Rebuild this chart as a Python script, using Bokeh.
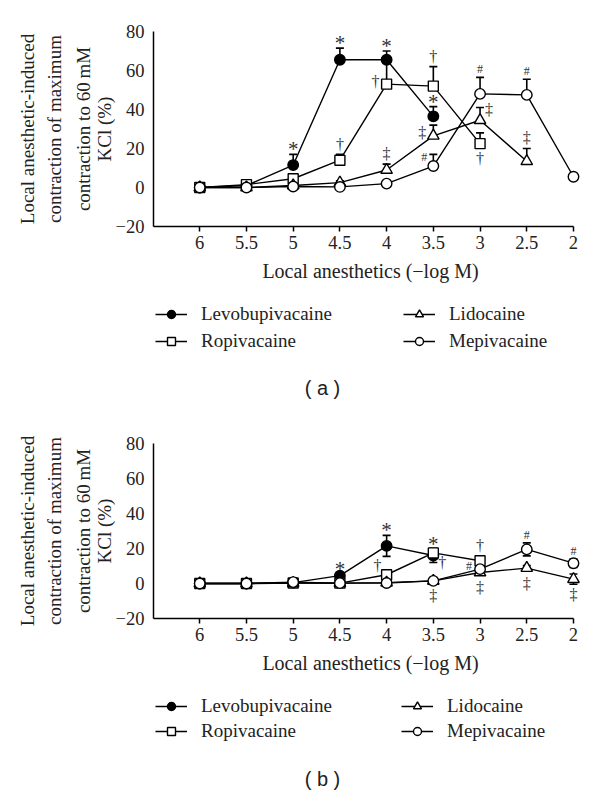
import math
from bokeh.plotting import figure
from bokeh.models import (Range1d, FixedTicker, Whisker, TeeHead, ColumnDataSource,
                          Legend, LegendItem, Label, LinearAxis)
from bokeh.layouts import column, row
from bokeh.embed import file_html
from bokeh.resources import INLINE
from bokeh.core.properties import value

# ---------------- data ----------------
x_ticks = [6, 5.5, 5, 4.5, 4, 3.5, 3, 2.5, 2]
x_tick_labels = ["6", "5.5", "5", "4.5", "4", "3.5", "3", "2.5", "2"]
y_ticks = [-20, 0, 20, 40, 60, 80]
y_tick_labels = ["\u221220", "0", "20", "40", "60", "80"]

series_names = ["Levobupivacaine", "Ropivacaine", "Lidocaine", "Mepivacaine"]
y_title_lines = ["Local anesthetic-induced", "contraction of maximum",
                 "contraction to 60\u2009mM", "KCl (%)"]
x_title = "Local anesthetics (\u2212log M)"
captions = ["( a )", "( b )"]

# Panel (a)
a_levo_x = [6, 5.5, 5, 4.5, 4, 3.5]
a_levo_y = [0, 1, 11.5, 65.5, 65.5, 36.5]
a_levo_err = [0, 0, 5.5, 6, 4.5, 5]
a_levo_sig = ["", "", "*", "*", "*", "*"]
a_levo_pos = ["", "", "above", "above", "above", "above"]

a_ropi_x = [6, 5.5, 5, 4.5, 4, 3.5, 3]
a_ropi_y = [0, 1.5, 4.5, 14, 53, 52, 22.5]
a_ropi_err = [0, 0, 1, 3, 12, 10, 5.5]
a_ropi_sig = ["", "", "", "\u2020", "\u2020", "\u2020", "\u2020"]
a_ropi_pos = ["", "", "", "above", "left", "above", "below"]

a_lido_x = [6, 5.5, 5, 4.5, 4, 3.5, 3, 2.5]
a_lido_y = [0, 0, 1, 2.5, 9, 26.5, 34.5, 13.5]
a_lido_err = [0, 0, 0, 1, 3, 5.5, 6.5, 6.5]
a_lido_sig = ["", "", "", "", "\u2021", "\u2021", "\u2021", "\u2021"]
a_lido_pos = ["", "", "", "", "above", "left", "upright", "above"]

a_mepi_x = [6, 5.5, 5, 4.5, 4, 3.5, 3, 2.5, 2]
a_mepi_y = [0, 0, 0.5, 0.3, 2, 11, 48, 47.5, 5.5]
a_mepi_err = [0, 0, 0, 0, 0, 6, 8.5, 8, 0]
a_mepi_sig = ["", "", "", "", "", "#", "#", "#", ""]
a_mepi_pos = ["", "", "", "", "", "upleft", "above", "above", ""]

# Panel (b)
b_levo_x = [6, 5.5, 5, 4.5, 4, 3.5]
b_levo_y = [0, 0, 0.5, 4.5, 21.5, 16]
b_levo_err = [0, 0, 0, 1, 6, 4]
b_levo_sig = ["", "", "", "*", "*", "*"]
b_levo_pos = ["", "", "", "above", "above", "above"]

b_ropi_x = [6, 5.5, 5, 4.5, 4, 3.5, 3]
b_ropi_y = [0, 0, 0.3, 0.2, 5, 17.5, 13]
b_ropi_err = [0, 0, 0, 0, 2.3, 2.5, 2.8]
b_ropi_sig = ["", "", "", "", "\u2020", "\u2020", "\u2020"]
b_ropi_pos = ["", "", "", "", "upleft", "downright", "above"]

b_lido_x = [6, 5.5, 5, 4.5, 4, 3.5, 3, 2.5, 2]
b_lido_y = [0, 0, 0.2, 0.2, 0.5, 1.5, 6.3, 8.8, 2.5]
b_lido_err = [0, 0, 0, 0, 0, 0.5, 1, 1.5, 2.9]
b_lido_sig = ["", "", "", "", "", "\u2021", "\u2021", "\u2021", "\u2021"]
b_lido_pos = ["", "", "", "", "", "below", "below", "below", "below"]

b_mepi_x = [6, 5.5, 5, 4.5, 4, 3.5, 3, 2.5, 2]
b_mepi_y = [0, 0, 0.8, 0.2, 0.3, 1.5, 8.2, 19.5, 11.6]
b_mepi_err = [0, 0, 0, 0, 0, 0.5, 1.5, 3.7, 2.4]
b_mepi_sig = ["", "", "", "", "", "", "#", "#", "#"]
b_mepi_pos = ["", "", "", "", "", "", "left", "above", "above"]

# ---------------- style ----------------
SERIF = "Liberation Serif"
SANS = "Liberation Sans"
INK = "#222222"
TOTAL_W = 596
markers = ["circle", "square", "triangle", "circle"]
fills = ["black", "white", "white", "white"]
marker_sizes = [10.5, 10, 11.5, 10.5]
sym_size = {"*": "21px", "\u2020": "16px", "\u2021": "16px", "#": "12px"}
above_off = {"*": -5, "\u2020": -10, "\u2021": -11, "#": -8}
pos_off = {"left": (-11, -3), "upleft": (-9, -9), "upright": (9, -11),
           "downright": (9, 10), "below": (0, 15)}
# standoffs of the four stacked title lines (innermost first)
title_standoffs = [-2, -3, 5, 3]


def draw_series(p, series, scale=1.0):
    line_rs, mark_rs = [], []
    for xs, ys, errs, sigs, poss in series:
        line_rs.append(p.line(xs, ys, line_color="black", line_width=1.4))
    for i, (xs, ys, errs, sigs, poss) in enumerate(series):
        mark_rs.append(p.scatter(xs, ys, marker=markers[i], size=marker_sizes[i] * scale,
                                 fill_color=fills[i], line_color="black", line_width=1.4))
    return line_rs, mark_rs


def make_main(series, both_heads, height, top, bottom):
    p = figure(width=TOTAL_W, height=height, output_backend="svg",
               toolbar_location=None,
               x_range=Range1d(6.495, 1.85), y_range=Range1d(-20, 80),
               min_border_left=153, min_border_right=9,
               min_border_top=top, min_border_bottom=bottom)
    p.outline_line_color = None
    p.grid.visible = False

    xa = p.xaxis[0]
    xa.ticker = FixedTicker(ticks=x_ticks)
    xa.major_label_overrides = {t: l for t, l in zip(x_ticks, x_tick_labels)}
    xa.bounds = (2, 6.495)
    xa.major_tick_out = 5
    xa.major_tick_in = 0
    xa.major_label_standoff = 4
    xa.axis_label = x_title
    xa.axis_label_standoff = 8
    xa.axis_label_text_font_size = "20px"

    ya = p.yaxis[0]
    ya.ticker = FixedTicker(ticks=y_ticks)
    ya.major_label_overrides = {t: l for t, l in zip(y_ticks, y_tick_labels)}
    ya.major_tick_out = 0
    ya.major_tick_in = 0
    ya.major_label_standoff = 9

    for ax in (xa, ya):
        ax.minor_tick_line_color = None
        ax.axis_line_color = "black"
        ax.axis_line_width = 1.5
        ax.major_tick_line_color = "black"
        ax.major_tick_line_width = 1.5
        ax.major_label_text_font = SERIF
        ax.major_label_text_font_size = "18.5px"
        ax.major_label_text_color = INK
        ax.axis_label_text_font = SERIF
        ax.axis_label_text_font_style = "normal"
        ax.axis_label_text_color = INK

    # y title: one tick-less axis per text line, stacked outward from the frame
    for txt, so in zip(reversed(y_title_lines), title_standoffs):
        t_ax = LinearAxis(ticker=FixedTicker(ticks=[]), axis_label=txt,
                          axis_label_standoff=so, axis_label_text_font=SERIF,
                          axis_label_text_font_size="19px", axis_label_text_font_style="normal",
                          axis_label_text_color=INK, axis_line_color=None,
                          major_tick_line_color=None, minor_tick_line_color=None,
                          major_tick_out=0, major_tick_in=0, minor_tick_out=0,
                          minor_tick_in=0, major_label_standoff=0)
        p.add_layout(t_ax, "left")

    for xs, ys, errs, sigs, poss in series:
        ex = [x for x, e in zip(xs, errs) if e > 0]
        ey = [y for y, e in zip(ys, errs) if e > 0]
        ee = [e for e in errs if e > 0]
        src = ColumnDataSource(dict(base=ex, upper=[y + e for y, e in zip(ey, ee)],
                                    lower=[y - e if both_heads else y for y, e in zip(ey, ee)]))
        w = Whisker(source=src, base="base", upper="upper", lower="lower",
                    dimension="height", line_color="black", line_width=1.6,
                    upper_head=TeeHead(size=8, line_color="black", line_width=1.6),
                    lower_head=(TeeHead(size=8, line_color="black", line_width=1.6)
                                if both_heads else None),
                    level="underlay")
        p.add_layout(w)
    draw_series(p, series)

    for xs, ys, errs, sigs, poss in series:
        for sym in sorted(set(s for s in sigs if s)):
            tx, ty, xo, yo = [], [], [], []
            for x, y, e, s, pos in zip(xs, ys, errs, sigs, poss):
                if s != sym:
                    continue
                if pos == "above":
                    tx.append(x); ty.append(y + e); xo.append(0); yo.append(above_off[sym])
                else:
                    dx, dy = pos_off[pos]
                    tx.append(x); ty.append(y); xo.append(dx); yo.append(dy)
            src = ColumnDataSource(dict(x=tx, y=ty, text=[sym] * len(tx), xo=xo, yo=yo))
            p.text(x="x", y="y", text="text", x_offset="xo", y_offset="yo", source=src,
                   text_font=value(SERIF), text_font_size=sym_size[sym],
                   text_align="center", text_baseline="middle", text_color="#333333")
    return p


def make_legend(series, height, legend_y, spacing, caption, caption_y):
    f = figure(width=TOTAL_W, height=height, output_backend="svg", toolbar_location=None,
               x_range=Range1d(0, 1), y_range=Range1d(0, 1),
               x_axis_location=None, y_axis_location=None,
               min_border_left=0, min_border_right=0, min_border_top=0,
               min_border_bottom=0)
    f.outline_line_color = None
    f.grid.visible = False
    # the series are drawn outside this strip's ranges; only their legend glyphs show
    line_rs, mark_rs = draw_series(f, series, scale=0.8)
    items = [LegendItem(label=series_names[i], renderers=[line_rs[i], mark_rs[i]])
             for i in range(4)]
    leg = Legend(items=items, location=(155, legend_y), orientation="vertical", ncols=2,
                 padding=0, margin=0, spacing=spacing, glyph_width=32,
                 glyph_height=20, label_height=20, label_standoff=14, label_width=197,
                 label_text_font=SERIF, label_text_font_size="19px",
                 label_text_color=INK, label_text_baseline="middle",
                 border_line_color=None, background_fill_alpha=0)
    f.add_layout(leg, "center")
    f.add_layout(Label(x=322, y=caption_y, x_units="screen", y_units="screen", text=caption,
                       text_align="center", text_baseline="middle", text_font=SANS,
                       text_font_size="20px", text_color=INK))
    return f


series_a = [(a_levo_x, a_levo_y, a_levo_err, a_levo_sig, a_levo_pos),
            (a_ropi_x, a_ropi_y, a_ropi_err, a_ropi_sig, a_ropi_pos),
            (a_lido_x, a_lido_y, a_lido_err, a_lido_sig, a_lido_pos),
            (a_mepi_x, a_mepi_y, a_mepi_err, a_mepi_sig, a_mepi_pos)]
series_b = [(b_levo_x, b_levo_y, b_levo_err, b_levo_sig, b_levo_pos),
            (b_ropi_x, b_ropi_y, b_ropi_err, b_ropi_sig, b_ropi_pos),
            (b_lido_x, b_lido_y, b_lido_err, b_lido_sig, b_lido_pos),
            (b_mepi_x, b_mepi_y, b_mepi_err, b_mepi_sig, b_mepi_pos)]

main_a = make_main(series_a, False, 292, 31, 66)
leg_a = make_legend(series_a, 108, 48, 5, captions[0], 13)

main_b = make_main(series_b, True, 284, 43, 66)
leg_b = make_legend(series_b, 106, 48, 3, captions[1], 12)

layout = column(row(main_a), leg_a, row(main_b), leg_b, spacing=0)
open("out.html", "w").write(file_html(layout, INLINE))
